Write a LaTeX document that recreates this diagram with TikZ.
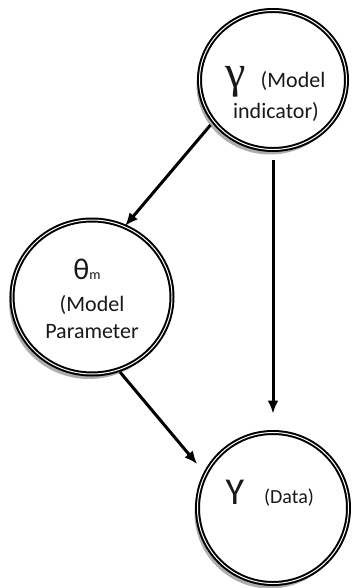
\documentclass[tikz,border=0pt]{standalone}
\usepackage{fontspec}
\setmainfont{Carlito}
\newfontfamily\gammafont{Liberation Serif}
\usetikzlibrary{arrows.meta,shapes.geometric,shadows}

\tikzset{
  varnode/.style={ellipse, draw=black, line width=2pt, double=white, double distance=1pt,
    fill=white, inner sep=0pt,
    drop shadow={shadow xshift=-3pt, shadow yshift=-5pt, fill=black!40, opacity=0.8}},
  lbl/.style={text=black!90, anchor=base, inner sep=0pt},
  link/.style={line width=3pt, -{Latex[length=13pt,width=11pt]}}
}
\newcommand{\txtsize}{\fontsize{22}{26}\selectfont}

\begin{document}
\begin{tikzpicture}[x=1pt,y=-1pt]
	\useasboundingbox (0,0) rectangle (352,588);
			% Nodos
				\node[varnode, minimum width=147pt, minimum height=139pt] (gamma) at (273,80) {};
				\node[varnode, minimum width=160pt, minimum height=154pt] (theta) at (92,297) {};
				\node[varnode, minimum width=151pt, minimum height=151pt] (data) at (273,508) {};
			
			% Textos
				\node[lbl] (gammasym) at (236,88) {\gammafont\fontsize{46}{46}\selectfont γ};
				\node[lbl] (gammamodel) at (293,88) {\txtsize (Model};
				\node[lbl] (gammaind) at (276,119) {\txtsize indicator)};
				
				\node[lbl] (thetasym) at (87,279) {\fontsize{30}{30}\selectfont θ{\fontsize{14}{14}\selectfont m}};
				\node[lbl] (thetamodel) at (92,311) {\txtsize (Model};
				\node[lbl] (thetapar) at (92,338) {\txtsize Parameter};
				
				\node[lbl] (datasym) at (235,504) {\fontsize{38}{38}\selectfont Y};
				\node[lbl] (datatext) at (289,503) {\fontsize{20}{24}\selectfont (Data)};
			
			% Flechas
				\draw[link, shorten <=4pt] (gamma.215) -- (theta.65);
				\draw[link, shorten <=10pt, shorten >=18pt] (gamma) -- (data);
				\draw[link, shorten <=2pt, shorten >=12pt] (theta.290) -- (data.153);
\end{tikzpicture}
\end{document}
